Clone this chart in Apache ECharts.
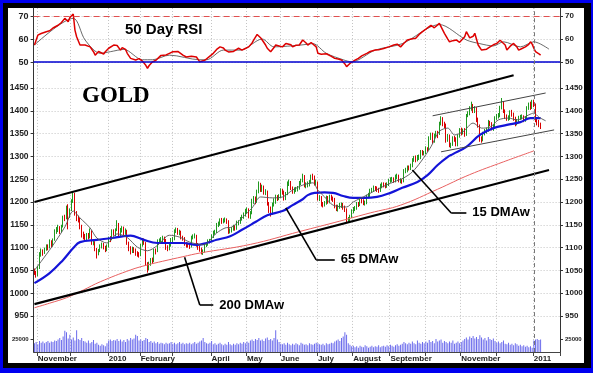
<!DOCTYPE html>
<html><head><meta charset="utf-8">
<script src="https://cdn.jsdelivr.net/npm/echarts@6/dist/echarts.min.js"></script>
<style>
html,body{margin:0;padding:0;width:593px;height:373px;overflow:hidden;background:#0000f0;}
#frame{position:absolute;left:3px;top:3px;width:588px;height:365px;background:#000;}
#inner{position:absolute;left:8px;top:8px;width:576px;height:355px;background:#fff;}
#chart{position:absolute;left:0;top:0;width:593px;height:373px;}
</style></head><body>
<div id="frame"></div><div id="inner"></div><div id="chart"></div>
<script>
// ---- axis / label data ----
const nCats = 312;
const monthStarts = [2,22,44,63,82,105,126,146,168,189,211,232,253,274,296];
const monthLabels = ['November','','2010','February','','April','May','June','July','August','September','','November','','2011'];
const priceTicks = [950,1000,1050,1100,1150,1200,1250,1300,1350,1400,1450];
const rsiTicks = [50,60,70];
const volTicks = [25000];
const yearLine = 296;

// ---- daily candles [open, close, low, high] ----
const candles = [
[1050,1045,1040,1054],[1045,1040,1034,1049],[1041,1055,1037,1060],[1056,1085,1053,1090],[1086,1090,1080,1098],
[1091,1090,1082,1096],[1089,1096,1086,1100],[1097,1102,1093,1107],[1103,1100,1094,1107],[1101,1112,1098,1118],
[1112,1105,1100,1116],[1105,1117,1102,1120],[1118,1135,1115,1140],[1135,1140,1130,1145],[1141,1143,1134,1150],
[1143,1137,1130,1147],[1138,1146,1133,1150],[1147,1166,1144,1170],[1166,1164,1158,1172],[1165,1187,1162,1192],
[1188,1168,1140,1195],[1170,1182,1165,1186],[1183,1202,1180,1206],[1202,1215,1198,1224],[1213,1175,1170,1220],
[1176,1165,1158,1180],[1166,1162,1155,1170],[1161,1147,1140,1165],[1146,1128,1122,1150],[1129,1125,1118,1135],
[1126,1120,1115,1130],[1121,1127,1115,1132],[1127,1124,1118,1132],[1125,1137,1120,1142],[1136,1110,1106,1138],
[1111,1112,1105,1118],[1111,1096,1092,1114],[1096,1087,1076,1099],[1088,1092,1083,1097],[1093,1103,1090,1107],
[1104,1106,1098,1111],[1106,1101,1096,1110],[1100,1095,1090,1104],[1096,1102,1092,1107],[1103,1120,1100,1124],
[1120,1118,1112,1125],[1119,1137,1116,1140],[1137,1133,1126,1140],[1133,1138,1125,1142],[1139,1152,1136,1160],
[1151,1128,1124,1154],[1129,1138,1125,1143],[1138,1143,1133,1147],[1143,1131,1126,1146],[1132,1138,1128,1142],
[1137,1110,1106,1139],[1110,1098,1092,1113],[1099,1092,1085,1103],[1093,1097,1088,1102],[1097,1094,1088,1101],
[1094,1086,1082,1098],[1087,1086,1080,1092],[1086,1083,1078,1090],[1084,1105,1081,1108],[1105,1117,1102,1121],
[1116,1110,1106,1120],[1110,1063,1060,1112],[1063,1052,1045,1068],[1053,1065,1050,1069],[1065,1072,1060,1077],
[1072,1070,1064,1078],[1071,1093,1068,1097],[1092,1092,1085,1098],[1093,1114,1090,1118],[1114,1115,1108,1120],
[1115,1118,1110,1123],[1118,1118,1112,1126],[1119,1118,1112,1124],[1117,1100,1095,1119],[1101,1098,1092,1105],
[1099,1104,1094,1108],[1105,1118,1102,1121],[1118,1118,1112,1123],[1119,1137,1116,1140],[1137,1140,1132,1144],
[1140,1132,1128,1143],[1132,1135,1127,1139],[1135,1122,1118,1137],[1123,1120,1115,1126],[1120,1108,1104,1123],
[1108,1106,1100,1112],[1107,1104,1100,1111],[1105,1102,1097,1108],[1102,1122,1100,1126],[1122,1125,1118,1129],
[1125,1126,1120,1131],[1125,1106,1102,1128],[1106,1100,1095,1110],[1100,1096,1091,1104],[1096,1090,1085,1100],
[1090,1091,1084,1096],[1092,1105,1089,1108],[1105,1108,1101,1112],[1108,1114,1104,1118],[1114,1115,1109,1119],
[1116,1125,1112,1129],[1125,1133,1121,1137],[1133,1135,1128,1139],[1135,1150,1132,1154],[1150,1152,1145,1157],
[1152,1160,1148,1164],[1160,1158,1152,1165],[1158,1160,1153,1164],[1160,1160,1155,1166],[1160,1158,1152,1164],
[1157,1136,1130,1160],[1137,1138,1131,1142],[1138,1140,1133,1145],[1141,1145,1137,1150],[1145,1142,1137,1149],
[1143,1155,1139,1159],[1155,1155,1149,1160],[1156,1163,1152,1167],[1163,1168,1159,1172],[1168,1172,1163,1177],
[1172,1180,1168,1185],[1180,1183,1175,1188],[1183,1168,1164,1186],[1168,1175,1163,1180],[1176,1203,1173,1207],
[1203,1208,1196,1213],[1208,1200,1195,1212],[1201,1222,1198,1227],[1222,1238,1219,1245],[1238,1228,1222,1242],
[1228,1232,1222,1238],[1232,1222,1216,1236],[1222,1223,1215,1228],[1222,1196,1192,1225],[1196,1185,1176,1200],
[1185,1175,1168,1190],[1176,1195,1172,1199],[1195,1200,1190,1208],[1200,1210,1196,1216],[1210,1208,1202,1215],
[1208,1212,1204,1217],[1213,1225,1209,1230],[1225,1222,1216,1229],[1222,1208,1203,1225],[1208,1218,1204,1222],
[1218,1240,1215,1245],[1240,1243,1235,1249],[1243,1230,1226,1246],[1230,1222,1218,1234],[1222,1228,1218,1232],
[1228,1228,1222,1233],[1228,1230,1223,1235],[1231,1242,1227,1246],[1242,1247,1237,1251],[1247,1256,1243,1262],
[1256,1236,1232,1259],[1236,1238,1230,1243],[1238,1240,1232,1245],[1240,1243,1234,1248],[1243,1255,1240,1260],
[1255,1254,1248,1262],[1254,1240,1236,1258],[1241,1244,1236,1249],[1242,1208,1203,1245],[1208,1210,1202,1215],
[1210,1195,1190,1213],[1196,1195,1188,1200],[1195,1197,1190,1202],[1198,1210,1194,1214],[1210,1200,1196,1213],
[1200,1213,1197,1216],[1213,1208,1203,1216],[1208,1206,1200,1212],[1206,1190,1186,1209],[1190,1185,1180,1194],
[1185,1190,1179,1194],[1191,1192,1185,1198],[1192,1195,1187,1199],[1195,1188,1183,1198],[1188,1183,1178,1192],
[1183,1160,1156,1186],[1160,1162,1155,1167],[1162,1168,1157,1172],[1168,1180,1165,1184],[1180,1185,1175,1189],
[1185,1186,1180,1191],[1187,1196,1183,1200],[1196,1195,1189,1200],[1195,1205,1191,1209],[1205,1202,1197,1208],
[1202,1198,1193,1206],[1198,1198,1192,1203],[1199,1212,1195,1216],[1212,1215,1208,1220],[1215,1225,1211,1229],
[1225,1227,1220,1231],[1227,1232,1222,1236],[1232,1230,1224,1235],[1230,1228,1222,1234],[1228,1225,1220,1231],
[1226,1235,1222,1240],[1235,1240,1230,1243],[1240,1238,1232,1243],[1238,1237,1230,1242],[1237,1238,1231,1243],
[1238,1248,1235,1251],[1248,1249,1242,1254],[1249,1250,1244,1255],[1250,1247,1242,1254],[1247,1256,1243,1260],
[1256,1257,1250,1262],[1257,1247,1243,1260],[1247,1247,1241,1252],[1247,1245,1240,1250],[1246,1268,1243,1272],
[1268,1270,1263,1275],[1270,1276,1265,1280],[1276,1275,1269,1280],[1275,1280,1270,1284],[1280,1292,1276,1296],
[1292,1297,1288,1301],[1297,1293,1287,1302],[1293,1298,1289,1303],[1298,1298,1292,1304],[1298,1310,1294,1314],
[1310,1308,1302,1314],[1308,1308,1302,1312],[1309,1318,1305,1322],[1318,1315,1310,1320],[1316,1340,1313,1344],
[1340,1348,1336,1352],[1348,1333,1328,1352],[1333,1347,1330,1350],[1347,1352,1342,1356],[1352,1350,1340,1356],
[1350,1372,1347,1376],[1372,1382,1368,1388],[1382,1372,1366,1386],[1372,1370,1362,1376],[1370,1335,1330,1372],
[1336,1345,1332,1349],[1345,1325,1320,1348],[1325,1327,1318,1330],[1327,1340,1323,1344],[1340,1338,1332,1345],
[1338,1326,1322,1342],[1326,1345,1322,1348],[1345,1358,1341,1362],[1358,1352,1346,1363],[1352,1357,1348,1361],
[1357,1347,1343,1362],[1348,1390,1345,1393],[1390,1395,1386,1399],[1395,1405,1390,1410],[1405,1410,1400,1420],
[1410,1400,1395,1415],[1400,1405,1395,1410],[1405,1380,1375,1408],[1380,1368,1363,1385],[1368,1338,1332,1370],
[1338,1337,1330,1344],[1337,1350,1333,1354],[1350,1355,1346,1360],[1355,1358,1350,1363],[1358,1375,1354,1380],
[1375,1372,1366,1378],[1372,1362,1357,1375],[1362,1365,1356,1370],[1365,1385,1362,1388],[1385,1388,1380,1393],
[1388,1390,1383,1395],[1390,1407,1386,1411],[1407,1415,1403,1428],[1415,1400,1395,1420],[1400,1388,1382,1403],
[1388,1384,1378,1392],[1384,1384,1378,1390],[1384,1397,1380,1401],[1397,1392,1387,1402],[1392,1384,1378,1396],
[1384,1372,1366,1387],[1372,1378,1368,1382],[1378,1385,1374,1389],[1385,1386,1380,1391],[1386,1387,1381,1392],
[1387,1380,1375,1390],[1380,1383,1376,1388],[1383,1406,1380,1410],[1406,1414,1402,1418],[1414,1407,1402,1420],
[1407,1420,1404,1424],[1420,1414,1408,1424],[1414,1378,1375,1416],[1378,1375,1368,1383],[1375,1370,1364,1380],
[1370,1366,1360,1374]
];

// ---- daily volume ----
const volume = [
17000,19000,15000,21000,18000,20000,17000,19000,21000,18000,
20000,19000,22000,21000,24000,27000,23000,30000,41000,38000,
26000,33000,24000,28000,22000,42000,25000,23000,27000,21000,
20000,18000,22000,17000,19000,23000,16000,18000,14000,12000,
15000,13000,11000,17000,22000,24000,21000,23000,22000,25000,
21000,24000,20000,23000,19000,25000,22000,27000,24000,26000,
33000,31000,22000,24000,21000,23000,27000,25000,19000,21000,
18000,20000,17000,19000,16000,18000,17000,15000,18000,16000,
17000,19000,16000,18000,15000,17000,19000,16000,18000,15000,
17000,16000,18000,15000,17000,19000,16000,18000,20000,22000,
27000,19000,17000,16000,18000,21000,15000,17000,14000,16000,
18000,15000,13000,16000,14000,19000,15000,13000,16000,14000,
17000,15000,18000,16000,19000,17000,20000,18000,22000,24000,
21000,25000,23000,27000,22000,24000,21000,26000,28000,23000,
25000,22000,27000,42000,24000,19000,16000,15000,17000,14000,
18000,15000,13000,16000,14000,17000,15000,13000,18000,16000,
14000,15000,13000,17000,15000,14000,16000,18000,17000,15000,
14000,16000,13000,17000,15000,16000,18000,17000,20000,22000,
24000,21000,27000,30000,38000,33000,17000,14000,11000,12000,
9000,11000,8000,12000,10000,9000,13000,11000,8000,10000,
12000,9000,11000,10000,13000,9000,11000,12000,10000,13000,
11000,14000,12000,10000,13000,15000,12000,14000,16000,19000,
17000,15000,18000,16000,20000,17000,15000,22000,18000,16000,
19000,17000,20000,18000,23000,19000,21000,17000,25000,20000,
22000,24000,18000,21000,19000,17000,20000,18000,22000,16000,
18000,20000,17000,19000,22000,25000,28000,24000,30000,27000,
31000,26000,29000,25000,32000,28000,24000,27000,22000,29000,
25000,23000,26000,21000,18000,20000,17000,19000,22000,16000,
15000,18000,14000,16000,13000,17000,15000,12000,14000,11000,
13000,10000,12000,9000,11000,8000,22000,24000,25000,23000,
24000
];

// ---- moving averages [day, price] ----
const ma15 = [[0,1050],[10,1100],[18,1145],[23,1180],[27,1165],[33,1143],[37,1121],[43,1110],[49,1130],[55,1122],[61,1101],[67,1093],[73,1105],[80,1127],[86,1123],[92,1112],[100,1106],[108,1132],[113,1143],[117,1145],[123,1165],[129,1187],[134,1211],[141,1209],[147,1211],[153,1226],[159,1237],[165,1242],[168,1226],[172,1211],[177,1193],[185,1189],[189,1200],[197,1215],[205,1231],[213,1244],[219,1253],[224,1266],[229,1288],[235,1321],[240,1355],[245,1362],[249,1347],[254,1354],[260,1373],[265,1362],[270,1364],[275,1380],[281,1384],[286,1380],[293,1391],[296,1395],[299,1386],[303,1378]];
const ma65 = [[0,1022],[9,1044],[17,1073],[23,1099],[27,1112],[37,1117],[46,1121],[53,1125],[57,1126],[64,1118],[73,1110],[80,1110],[88,1110],[96,1106],[102,1110],[108,1117],[116,1125],[123,1139],[131,1156],[138,1171],[147,1180],[153,1193],[159,1206],[162,1215],[166,1220],[172,1221],[177,1220],[183,1213],[189,1209],[195,1209],[203,1211],[211,1220],[218,1231],[227,1244],[233,1259],[239,1281],[245,1299],[248,1305],[256,1321],[264,1347],[272,1362],[280,1369],[288,1375],[294,1384],[300,1384]];
const ma200 = [[0,968],[9,978],[19,990],[29,1007],[39,1025],[57,1051],[67,1062],[76,1070],[88,1080],[98,1088],[128,1107],[157,1135],[181,1158],[199,1176],[217,1193],[239,1228],[258,1260],[278,1288],[296,1312]];

// ---- RSI [day, value] ----
const rsi = [[0,57.4],[2,61.7],[4,62.4],[5,61.8],[7,63.2],[9,63.6],[11,64.8],[12,64.2],[14,66],[16,67.2],[18,69],[20,67.5],[21,69.4],[23,70.9],[24,63.9],[25,61],[27,57.4],[28,57.9],[30,57.4],[31,58.2],[33,56.6],[35,54.5],[36,53],[38,54.6],[39,53.8],[41,53.5],[42,54.5],[44,56],[45,56.6],[47,57.4],[48,58.1],[49,57.2],[51,55.2],[52,56.3],[54,55.5],[55,53.8],[57,51.6],[58,52.4],[60,50.9],[62,51.5],[64,50.4],[66,48.6],[67,47.3],[68,48.5],[70,50.1],[72,50.8],[73,51.6],[75,52.9],[76,52.6],[78,53.1],[80,53.8],[82,54.5],[83,55.2],[85,54.6],[86,55],[88,53],[90,52.2],[91,51.6],[93,52.5],[94,53],[96,52.2],[98,50.1],[99,49.4],[101,50.8],[102,51.6],[104,52.6],[106,53.8],[108,55.5],[110,56.6],[112,56.1],[113,55.2],[115,54.4],[116,53.8],[118,54.6],[119,55.2],[121,56],[123,55.2],[125,55.9],[127,56.6],[129,58.3],[130,59.6],[132,62],[134,60.6],[135,59.6],[137,57.4],[138,56],[140,54.5],[142,56.3],[143,57.4],[145,57],[147,56.6],[149,58.1],[150,58.8],[152,57.5],[153,56.6],[155,57.3],[157,57.4],[159,59.6],[161,58.3],[162,57.4],[164,58.5],[165,58.1],[167,56.6],[168,53.8],[170,53.4],[171,53],[173,53.6],[174,53.8],[176,52.5],[178,51.6],[180,51.3],[182,50.9],[184,49.2],[185,48],[187,49.4],[188,50.1],[190,50.8],[192,51.6],[194,52.7],[197,53.8],[199,54.6],[202,55.2],[204,55.3],[207,55.9],[210,56.6],[213,57.4],[215,57.8],[217,56.6],[219,58.2],[221,59.6],[224,60.1],[226,60.3],[228,62],[230,63.2],[232,64.3],[235,66],[237,64.9],[240,66.8],[241,66.2],[243,62.5],[245,60],[246,58.8],[248,59.3],[250,59.6],[252,58.6],[253,58.1],[255,61],[256,63.2],[258,60.5],[260,61.2],[261,62.5],[263,57.4],[265,55.2],[266,54.5],[268,55.6],[270,56.6],[272,57.5],[274,58.1],[276,59.5],[277,60.3],[279,57.4],[280,55.2],[282,56.9],[284,58.1],[286,56.5],[287,55.2],[289,55.9],[291,56.6],[293,57.7],[294,58.8],[295,57.8],[296,56],[297,54.5],[299,53.6],[300,53]];
const rsiMA = [[0,57.4],[23,69],[30,59.6],[39,53.8],[45,54.5],[53,55.5],[64,51],[70,51],[80,53],[98,51],[102,51],[112,55.2],[122,55.2],[135,60],[142,56.6],[158,57.4],[165,58],[173,53.8],[183,51],[188,50.1],[202,55.2],[218,58],[240,66.3],[256,59.6],[264,58],[272,57],[278,58.8],[288,56.6],[296,58.8],[305,55.6]];

// ---- trend lines and annotations [day, price] ----
const upperChannel = [[0,1200],[284,1478]];
const lowerChannel = [[0,976],[305,1270]];
const upperFlag = [[236,1389],[303,1439]];
const lowerFlag = [[241,1310],[308,1358]];
const notes = [
  {text:'15 DMAw', pts:[[224,1270],[247,1176],[256,1176]]},
  {text:'65 DMAw', pts:[[149,1187],[167,1073],[178,1073]]},
  {text:'200 DMAw', pts:[[89,1079],[98,974],[106,974]]}
];

// ---- build ----
const SANS = '"Liberation Sans", Arial, Helvetica, sans-serif';
const cats = Array.from({length: nCats}, (_, i) => String(i));
const labelAt = {};
monthStarts.forEach((m, k) => { if (monthLabels[k]) labelAt[m] = monthLabels[k]; });
const isMonth = (i) => monthStarts.indexOf(i) >= 0;
const gridLine = {show: true, interval: isMonth, lineStyle: {color: '#c4c4c4', type: [1, 2], width: 1}};
const hGrid = {show: true, lineStyle: {color: '#c4c4c4', type: [1, 2], width: 1}};
const axisCol = '#333';

function seg(a, b, style, label) {
  const first = {coord: a, lineStyle: style};
  first.label = label || {show: false};
  return [first, {coord: b}];
}
const thick = {color: '#000', width: 2.2, type: 'solid'};
const thin = {color: '#444', width: 1, type: 'solid'};
const leader = {color: '#000', width: 1.6, type: 'solid'};
const yearStyle = {color: '#777', width: 1, type: [4, 3]};

const priceMarks = [
  seg(upperChannel[0], upperChannel[1], thick),
  seg(lowerChannel[0], lowerChannel[1], thick),
  seg(upperFlag[0], upperFlag[1], thin),
  seg(lowerFlag[0], lowerFlag[1], thin),
  {xAxis: yearLine, lineStyle: yearStyle, label: {show: false}}
];
notes.forEach(n => {
  priceMarks.push(seg(n.pts[0], n.pts[1], leader));
  priceMarks.push(seg(n.pts[1], n.pts[2], leader, {
    show: true, position: 'end', formatter: n.text, distance: 6,
    fontFamily: SANS, fontSize: 13, fontWeight: 'bold', color: '#000'
  }));
});

function yAx(grid, pos, min, max, ticks, fs, showSplit) {
  return {
    type: 'value', gridIndex: grid, position: pos, min: min, max: max,
    axisLine: {show: true, lineStyle: {color: axisCol, width: 1}},
    axisTick: {show: true, length: 3, customValues: ticks, lineStyle: {color: axisCol}},
    axisLabel: {show: true, customValues: ticks, formatter: (v) => String(v), fontSize: fs, fontFamily: SANS, fontWeight: 'bold', color: '#222', margin: 5},
    splitLine: showSplit ? hGrid : {show: false}
  };
}
function xAx(grid, bottom) {
  return {
    type: 'category', gridIndex: grid, data: cats, boundaryGap: true,
    axisLine: {show: bottom, lineStyle: {color: '#444'}},
    axisTick: {show: bottom, interval: isMonth, length: 4, lineStyle: {color: '#444'}},
    axisLabel: {show: bottom, interval: (i) => labelAt[i] !== undefined, formatter: (v, i) => labelAt[i] || '',
      align: 'left', fontSize: 8, fontFamily: SANS, fontWeight: 'bold', color: '#222', margin: 3},
    splitLine: gridLine
  };
}

const chart = echarts.init(document.getElementById('chart'), null, {renderer: 'canvas'});
chart.setOption({
  animation: false,
  backgroundColor: 'transparent',
  title: [
    {text: '50 Day RSI', left: 125, top: 22, padding: 0, textStyle: {fontFamily: SANS, fontSize: 15, fontWeight: 'bold', color: '#000'}},
    {text: 'GOLD', left: 82, top: 85, padding: 0, textStyle: {fontFamily: '"Liberation Serif", "Times New Roman", serif', fontSize: 23, fontWeight: 'bold', color: '#000'}}
  ],
  grid: [
    {left: 33.6, width: 526.4, top: 8, height: 63.25, outerBoundsMode: 'none'},
    {left: 33.6, width: 526.4, top: 62.9, height: 267.2, outerBoundsMode: 'none'},
    {left: 33.6, width: 526.4, top: 327.04, height: 24.96, outerBoundsMode: 'none'}
  ],
  xAxis: [xAx(0, false), xAx(1, false), xAx(2, true)],
  yAxis: [
    yAx(0, 'left', 46, 73.5, rsiTicks, 9, true),
    yAx(0, 'right', 46, 73.5, rsiTicks, 8, false),
    yAx(1, 'left', 919, 1505, priceTicks, 8.5, true),
    yAx(1, 'right', 919, 1505, priceTicks, 8, false),
    yAx(2, 'left', 0, 48000, volTicks, 6, false),
    yAx(2, 'right', 0, 48000, volTicks, 6, false)
  ],
  series: [
    {type: 'line', name: 'RSI', xAxisIndex: 0, yAxisIndex: 0, data: rsi, symbol: 'none',
      lineStyle: {color: '#dd0000', width: 1.5}, z: 4,
      markLine: {silent: true, symbol: ['none', 'none'], animation: false, label: {show: false},
        data: [
          {yAxis: 70, lineStyle: {color: '#e05050', type: [6, 4], width: 1}},
          {yAxis: 50, lineStyle: {color: '#0000d0', type: 'solid', width: 1.6}},
          {xAxis: yearLine, lineStyle: yearStyle}
        ]}},
    {type: 'line', name: 'RSI MA', xAxisIndex: 0, yAxisIndex: 0, data: rsiMA, symbol: 'none', smooth: 0.3,
      lineStyle: {color: '#444', width: 0.8}, z: 3},
    {type: 'candlestick', name: 'Gold', xAxisIndex: 1, yAxisIndex: 2, data: candles, barWidth: 1,
      itemStyle: {color: '#62c862', color0: '#ee1c1c', borderColor: '#1f991f', borderColor0: '#d80000', borderWidth: 1},
      z: 2,
      markLine: {silent: true, symbol: ['none', 'none'], animation: false, label: {show: false}, data: priceMarks}},
    {type: 'line', name: '200 DMAw', xAxisIndex: 1, yAxisIndex: 2, data: ma200, symbol: 'none', smooth: 0.4,
      lineStyle: {color: '#e86060', width: 1}, z: 3},
    {type: 'line', name: '65 DMAw', xAxisIndex: 1, yAxisIndex: 2, data: ma65, symbol: 'none', smooth: 0.4,
      lineStyle: {color: '#1414d8', width: 2.2}, z: 4},
    {type: 'line', name: '15 DMAw', xAxisIndex: 1, yAxisIndex: 2, data: ma15, symbol: 'none', smooth: 0.3,
      lineStyle: {color: '#555', width: 0.9}, z: 4},
    {type: 'bar', name: 'Volume', xAxisIndex: 2, yAxisIndex: 4, data: volume, barWidth: 1,
      itemStyle: {color: '#6c6cec'},
      markLine: {silent: true, symbol: ['none', 'none'], animation: false, label: {show: false},
        data: [{xAxis: yearLine, lineStyle: yearStyle}]}}
  ]
});
</script></body></html>
